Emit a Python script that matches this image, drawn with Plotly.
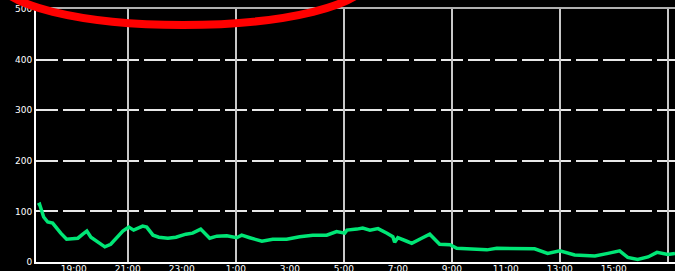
import plotly.graph_objects as go

# data (time, value)
times = [
    "2023-01-01 17:40", "2023-01-01 17:44", "2023-01-01 17:53", "2023-01-01 18:02",
    "2023-01-01 18:13", "2023-01-01 18:20", "2023-01-01 18:31", "2023-01-01 18:44",
    "2023-01-01 18:58", "2023-01-01 19:09", "2023-01-01 19:20", "2023-01-01 19:29",
    "2023-01-01 19:38", "2023-01-01 19:53", "2023-01-01 20:09", "2023-01-01 20:22",
    "2023-01-01 20:38", "2023-01-01 20:49", "2023-01-01 21:02", "2023-01-01 21:13",
    "2023-01-01 21:33", "2023-01-01 21:42", "2023-01-01 21:56", "2023-01-01 22:09",
    "2023-01-01 22:29", "2023-01-01 22:47", "2023-01-01 23:09", "2023-01-01 23:24",
    "2023-01-01 23:42", "2023-01-01 23:51", "2023-01-02 00:02", "2023-01-02 00:18",
    "2023-01-02 00:40", "2023-01-02 01:02", "2023-01-02 01:13", "2023-01-02 01:31",
    "2023-01-02 01:58", "2023-01-02 02:22", "2023-01-02 02:53", "2023-01-02 03:22",
    "2023-01-02 03:51", "2023-01-02 04:22", "2023-01-02 04:44", "2023-01-02 05:02",
    "2023-01-02 05:07", "2023-01-02 05:29", "2023-01-02 05:42", "2023-01-02 05:58",
    "2023-01-02 06:16", "2023-01-02 06:36", "2023-01-02 06:49", "2023-01-02 06:53",
    "2023-01-02 07:00", "2023-01-02 07:20", "2023-01-02 07:31", "2023-01-02 07:53",
    "2023-01-02 08:11", "2023-01-02 08:33", "2023-01-02 08:56", "2023-01-02 09:11",
    "2023-01-02 09:40", "2023-01-02 10:18", "2023-01-02 10:40", "2023-01-02 11:31",
    "2023-01-02 12:04", "2023-01-02 12:33", "2023-01-02 13:00", "2023-01-02 13:33",
    "2023-01-02 14:18", "2023-01-02 14:47", "2023-01-02 15:13", "2023-01-02 15:31",
    "2023-01-02 15:53", "2023-01-02 16:16", "2023-01-02 16:36", "2023-01-02 17:00",
    "2023-01-02 17:16",
]
values = [
    112, 114, 89, 79,
    77, 69, 57, 45,
    47, 47, 55, 61,
    49, 39, 30, 35,
    49, 61, 69, 63,
    71, 69, 53, 49,
    47, 49, 55, 57,
    65, 57, 47, 51,
    52, 48, 53, 48,
    41, 45, 45, 50,
    53, 53, 60, 57,
    63, 65, 67, 63,
    66, 57, 50, 39,
    48, 41, 37, 47,
    55, 35, 34, 27,
    25, 24, 27, 27,
    26, 17, 22, 14,
    12, 17, 22, 9,
    5, 10, 19, 15,
    17,
]
y_ticks = [0, 100, 200, 300, 400, 500]
x_range = ["2023-01-01 17:36", "2023-01-02 17:16"]
label_tick0 = "2023-01-01 19:00"
grid_tick0 = "2023-01-01 21:00"

fig = go.Figure()
fig.add_trace(go.Scatter(
    x=times, y=values, mode="lines",
    line=dict(color="#00e676", width=3.5),
    hoverinfo="skip", showlegend=False,
))
# invisible copy on the grid axis so it is drawn
fig.add_trace(go.Scatter(
    x=times, y=values, mode="lines", xaxis="x2",
    line=dict(color="rgba(0,0,0,0)", width=0),
    hoverinfo="skip", showlegend=False,
))

font = dict(family="DejaVu Sans", size=9, color="white")

fig.update_layout(
    width=675, height=271,
    margin=dict(l=36, r=0, t=9, b=9),
    paper_bgcolor="black", plot_bgcolor="black",
    showlegend=False,
    xaxis=dict(
        type="date", range=x_range,
        tick0=label_tick0, dtick=2 * 3600 * 1000, tickformat="%-H:%M",
        showgrid=False, zeroline=False,
        showline=True, linecolor="white", linewidth=2,
        ticks="", tickfont=font, automargin=False,
        ticklabelstandoff=-3,
    ),
    xaxis2=dict(
        type="date", range=x_range, overlaying="x", side="top",
        tick0=grid_tick0, dtick=4 * 3600 * 1000,
        showgrid=True, gridcolor="#c8c8c8", gridwidth=2,
        showticklabels=False, ticks="", zeroline=False,
        showline=True, linecolor="#b0b0b0", linewidth=2,
        automargin=False,
    ),
    yaxis=dict(
        range=[0, 500], tickvals=y_ticks,
        showgrid=True, gridcolor="#e8e8e8", gridwidth=2, griddash="22px,5px",
        zeroline=False,
        showline=True, linecolor="white", linewidth=2,
        ticks="", tickfont=font, automargin=False,
    ),
    shapes=[dict(
        type="circle", xref="paper", yref="paper",
        x0=-0.058, x1=0.518, y0=0.937, y1=1.292,
        line=dict(color="#ff0000", width=8), layer="above",
    )],
)

fig.write_html(
    "out.html",
    config={"displayModeBar": False},
    post_script="document.body.style.margin='0px';document.body.style.background='black';",
)
